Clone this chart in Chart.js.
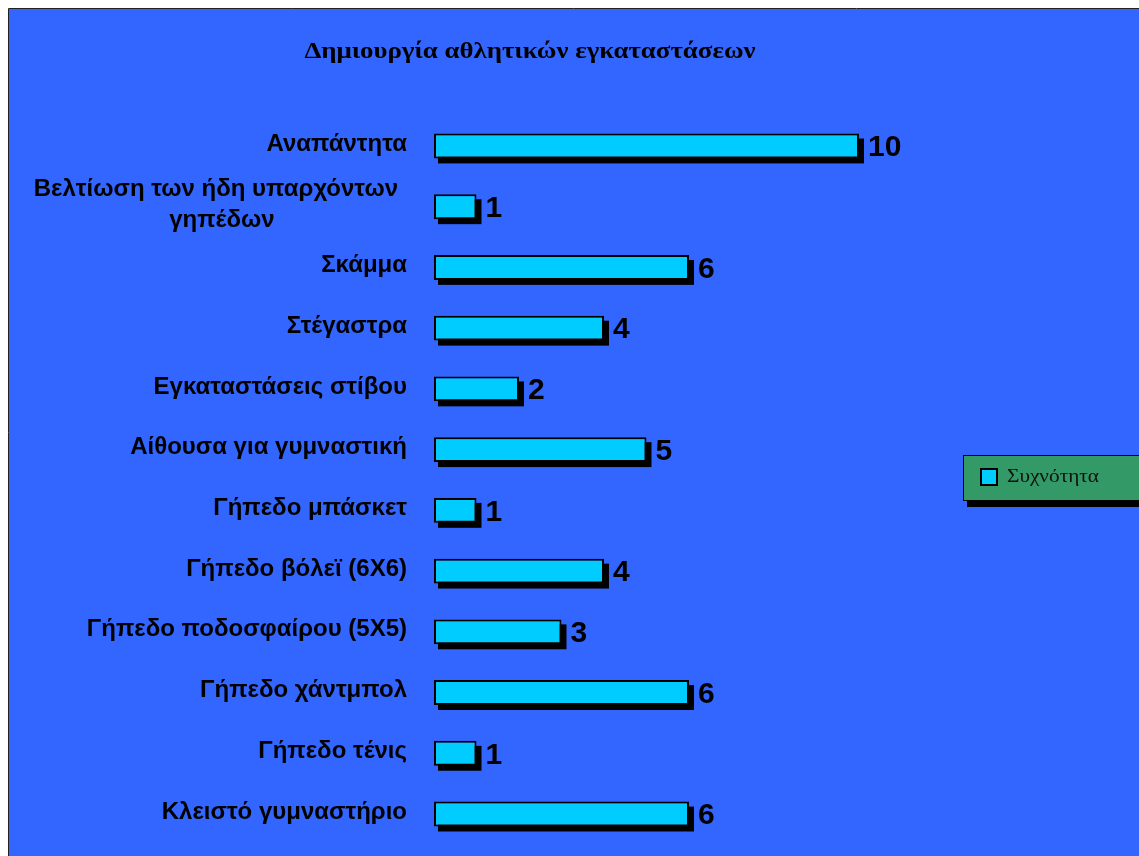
<!DOCTYPE html>
<html>
<head>
<meta charset="utf-8">
<script src="https://cdn.jsdelivr.net/npm/chart.js@4/dist/chart.umd.min.js"></script>
<style>
  html, body { margin: 0; padding: 0; background: #fff; }
  #wrap { width: 1139px; height: 856px; position: relative; }
</style>
</head>
<body>
<div id="wrap"><canvas id="chart" width="1139" height="856"></canvas></div>
<script>
// Data
const chartTitle = 'Δημιουργία αθλητικών εγκαταστάσεων';
const seriesName = 'Συχνότητα';
const categories = [
  'Αναπάντητα',
  ['Βελτίωση των ήδη υπαρχόντων', 'γηπέδων'],
  'Σκάμμα',
  'Στέγαστρα',
  'Εγκαταστάσεις στίβου',
  'Αίθουσα για γυμναστική',
  'Γήπεδο μπάσκετ',
  'Γήπεδο βόλεϊ (6Χ6)',
  'Γήπεδο ποδοσφαίρου (5Χ5)',
  'Γήπεδο χάντμπολ',
  'Γήπεδο τένις',
  'Κλειστό γυμναστήριο'
];
const frequency = [10, 1, 6, 4, 2, 5, 1, 4, 3, 6, 1, 6];

const BLUE = '#3366FF';
const CYAN = '#00CCFF';
const GREEN = '#339966';

// draw text a bit wider, like the original export
const wideText = (ctx, text, x, y, sx) => {
  ctx.save();
  ctx.translate(x, y);
  ctx.scale(sx, 1);
  ctx.fillText(text, 0, 0);
  ctx.restore();
};

// background, shadows, labels, legend
const decorPlugin = {
  id: 'decor',
  beforeDraw(chart) {
    const ctx = chart.ctx;
    ctx.save();
    ctx.fillStyle = '#fff';
    ctx.fillRect(0, 0, chart.width, chart.height);
    ctx.fillStyle = BLUE;
    ctx.fillRect(9, 9, chart.width - 9, chart.height - 9);
    ctx.strokeStyle = '#222';
    ctx.lineWidth = 1;
    ctx.beginPath();
    ctx.moveTo(8.5, chart.height);
    ctx.lineTo(8.5, 8.5);
    ctx.lineTo(chart.width, 8.5);
    ctx.stroke();

    // title
    ctx.fillStyle = '#000';
    ctx.font = 'bold 24px "Liberation Serif", "Times New Roman", serif';
    ctx.textAlign = 'center';
    ctx.textBaseline = 'middle';
    wideText(ctx, chartTitle, 530, 52, 1.12);

    // legend box
    ctx.fillStyle = '#000';
    ctx.fillRect(967, 462, chart.width - 967, 45);
    ctx.fillStyle = GREEN;
    ctx.fillRect(963, 455, chart.width - 963, 46);
    ctx.strokeStyle = '#000';
    ctx.strokeRect(963.5, 455.5, chart.width - 963, 45);
    ctx.fillStyle = CYAN;
    ctx.fillRect(980, 468, 18, 18);
    ctx.lineWidth = 2;
    ctx.strokeRect(981, 469, 16, 16);
    ctx.fillStyle = '#111';
    ctx.font = '19px "Liberation Serif", "Times New Roman", serif';
    ctx.textAlign = 'left';
    ctx.textBaseline = 'alphabetic';
    wideText(ctx, seriesName, 1007, 482, 1.12);
    ctx.restore();
  },
  beforeDatasetsDraw(chart) {
    const ctx = chart.ctx;
    ctx.save();
    ctx.fillStyle = '#000';
    chart.getDatasetMeta(0).data.forEach(bar => {
      const h = bar.height;
      ctx.fillRect(bar.base + 4, bar.y - h / 2 + 5, bar.x - bar.base + 1, h);
    });
    ctx.restore();
  },
  afterDatasetsDraw(chart) {
    const ctx = chart.ctx;
    const yScale = chart.scales.y;
    ctx.save();
    ctx.fillStyle = '#000';
    // value labels
    ctx.font = 'bold 30px "Liberation Sans", Arial, sans-serif';
    ctx.textAlign = 'left';
    ctx.textBaseline = 'middle';
    chart.getDatasetMeta(0).data.forEach((bar, i) => {
      ctx.fillText(String(frequency[i]), bar.x + 9, bar.y + 2);
    });
    // category labels
    ctx.font = 'bold 24px "Liberation Sans", Arial, sans-serif';
    categories.forEach((cat, i) => {
      const y = yScale.getPixelForValue(i) - 2;
      if (Array.isArray(cat)) {
        const w = Math.max(...cat.map(t => ctx.measureText(t).width));
        const cx = 398 - w / 2;
        ctx.textAlign = 'center';
        const lh = 31;
        cat.forEach((t, k) => {
          ctx.fillText(t, cx + (k ? 6 : 0), y + (k - (cat.length - 1) / 2) * lh);
        });
      } else {
        ctx.textAlign = 'right';
        ctx.fillText(cat, 407, y);
      }
    });
    ctx.restore();
  }
};

new Chart(document.getElementById('chart'), {
  type: 'bar',
  data: {
    labels: categories,
    datasets: [{
      label: seriesName,
      data: frequency,
      backgroundColor: CYAN,
      borderColor: '#000',
      borderWidth: 2,
      borderSkipped: false,
      categoryPercentage: 1,
      barPercentage: 0.41
    }]
  },
  options: {
    indexAxis: 'y',
    responsive: false,
    animation: false,
    layout: { padding: { left: 434, right: 195, top: 115.6, bottom: 11.6 } },
    scales: {
      x: { display: false, min: 0, max: 12 },
      y: { display: false }
    },
    plugins: {
      legend: { display: false },
      title: { display: false },
      tooltip: { enabled: false }
    }
  },
  plugins: [decorPlugin]
});
</script>
</body>
</html>
